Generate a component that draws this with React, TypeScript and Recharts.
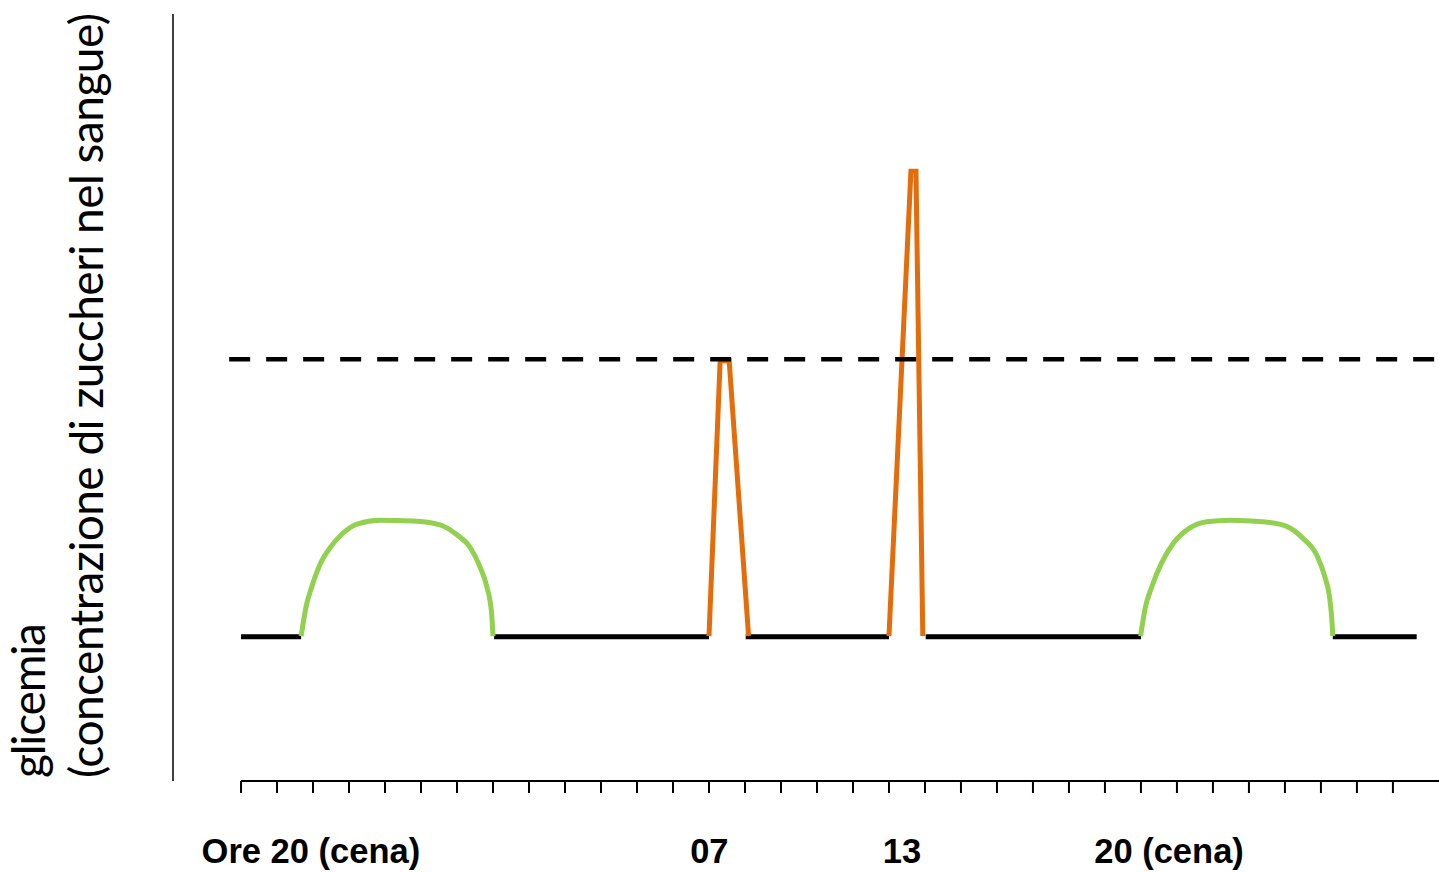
import { ComposedChart, Line, XAxis, YAxis, ReferenceLine } from 'recharts';

// x runs in tick steps (one tick per hour-ish), y is glycemia in arbitrary units
const hourTicks = [0, 1, 2, 3, 4, 5, 6, 7, 8, 9, 10, 11, 12, 13, 14, 15, 16, 17, 18, 19, 20, 21, 22, 23, 24, 25, 26, 27, 28, 29, 30, 31, 32];
const timeLabels = ['Ore 20 (cena)', '07', '13', '20 (cena)'];
const timeLabelPos = [1.94, 13.01, 18.36, 25.78];

const xDomain: [number, number] = [-1.89, 33.28];
const yDomain: [number, number] = [0, 100];

// fasting level between meals (null = gap)
const baseline = [
  { x: 0, y: 18.8 }, { x: 1.67, y: 18.8 }, { x: 1.67, y: null },
  { x: 7.03, y: 18.8 }, { x: 13.0, y: 18.8 }, { x: 13.0, y: null },
  { x: 14.02, y: 18.8 }, { x: 18.0, y: 18.8 }, { x: 18.0, y: null },
  { x: 19.02, y: 18.8 }, { x: 25.0, y: 18.8 }, { x: 25.0, y: null },
  { x: 30.33, y: 18.8 }, { x: 32.66, y: 18.8 },
];

// slow rise after dinner
const dinner1 = [
  { x: 1.67, y: 18.9 }, { x: 1.81, y: 22.8 }, { x: 1.97, y: 25.4 }, { x: 2.19, y: 28.2 },
  { x: 2.47, y: 30.4 }, { x: 2.83, y: 32.3 }, { x: 3.22, y: 33.5 }, { x: 3.86, y: 34.0 },
  { x: 4.78, y: 33.9 }, { x: 5.53, y: 33.4 }, { x: 6.0, y: 32.1 }, { x: 6.36, y: 30.5 },
  { x: 6.64, y: 27.9 }, { x: 6.83, y: 25.3 }, { x: 6.96, y: 21.9 }, { x: 7.0, y: 18.9 },
];

const dinner2 = [
  { x: 24.99, y: 18.9 }, { x: 25.12, y: 22.6 }, { x: 25.3, y: 25.3 }, { x: 25.57, y: 28.4 },
  { x: 25.9, y: 31.0 }, { x: 26.36, y: 33.0 }, { x: 26.83, y: 33.8 }, { x: 27.47, y: 34.0 },
  { x: 28.39, y: 33.8 }, { x: 29.05, y: 33.2 }, { x: 29.51, y: 31.6 }, { x: 29.88, y: 29.5 },
  { x: 30.11, y: 26.6 }, { x: 30.25, y: 23.6 }, { x: 30.31, y: 20.6 }, { x: 30.33, y: 18.9 },
];

// sharp spikes (breakfast, lunch)
const spikes = [
  { x: 13.0, y: 18.9 }, { x: 13.31, y: 54.8 }, { x: 13.56, y: 54.8 }, { x: 14.1, y: 18.9 },
  { x: 14.1, y: null },
  { x: 18.0, y: 18.9 }, { x: 18.61, y: 79.5 }, { x: 18.75, y: 79.5 }, { x: 18.94, y: 18.9 },
];

const threshold = [
  { x: -0.33, y: 55 }, { x: 33.28, y: 55 },
];

function YLabel(props: any) {
  const vb = props.viewBox || { x: 0, y: 14, width: 173, height: 767 };
  const bottom = vb.y + vb.height - 3;
  const style = { fontFamily: 'Lato, "Open Sans", sans-serif', fontSize: 46, fill: '#000' };
  return (
    <g>
      <text x={vb.x + 45} y={bottom} transform={`rotate(-90 ${vb.x + 45} ${bottom})`} style={style} textLength={155}>
        glicemia
      </text>
      <text x={vb.x + 103} y={bottom} transform={`rotate(-90 ${vb.x + 103} ${bottom})`} style={style} textLength={765}>
        (concentrazione di zuccheri nel sangue)
      </text>
    </g>
  );
}

const lineProps = { dot: false, activeDot: false, isAnimationActive: false, strokeWidth: 5 };

export default function App() {
  return (
    <div style={{ position: 'absolute', left: 0, top: 0, background: '#fff' }}>
      <ComposedChart width={1439} height={872} margin={{ top: 14, right: 0, bottom: 0, left: 0 }}>
        <XAxis
          xAxisId="a"
          dataKey="x"
          type="number"
          domain={xDomain}
          allowDataOverflow
          ticks={hourTicks}
          interval={0}
          axisLine={false}
          tickLine={{ stroke: '#000', strokeWidth: 2 }}
          tickSize={12}
          tickFormatter={() => ''}
          height={30}
        />
        <XAxis
          xAxisId="b"
          dataKey="x"
          type="number"
          domain={xDomain}
          allowDataOverflow
          ticks={timeLabelPos}
          interval={0}
          axisLine={false}
          tickLine={false}
          tickSize={0}
          tickMargin={28}
          tickFormatter={(v: number) => timeLabels[timeLabelPos.indexOf(v)] ?? ''}
          tick={{ fill: '#000', fontSize: 34.5, fontWeight: 'bold', fontFamily: '"Liberation Sans", Arial, sans-serif' }}
          height={61}
        />
        <YAxis
          domain={yDomain}
          width={173}
          tick={false}
          tickLine={false}
          axisLine={{ stroke: '#000', strokeWidth: 1.5 }}
          label={(p: any) => <YLabel {...p} />}
        />
        <ReferenceLine
          xAxisId="a"
          segment={[{ x: 0, y: 0 }, { x: 33.28, y: 0 }]}
          stroke="#000"
          strokeWidth={2}
        />
        <Line xAxisId="a" data={baseline} dataKey="y" type="linear" stroke="#000" {...lineProps} />
        <Line xAxisId="a" data={dinner1} dataKey="y" type="monotone" stroke="#92D050" {...lineProps} />
        <Line xAxisId="a" data={dinner2} dataKey="y" type="monotone" stroke="#92D050" {...lineProps} />
        <Line xAxisId="a" data={spikes} dataKey="y" type="linear" stroke="#E46C0A" {...lineProps} />
        <Line xAxisId="b" data={threshold} dataKey="y" type="linear" stroke="#000" strokeDasharray="21 16" {...lineProps} strokeWidth={4.5} />
      </ComposedChart>
    </div>
  );
}
